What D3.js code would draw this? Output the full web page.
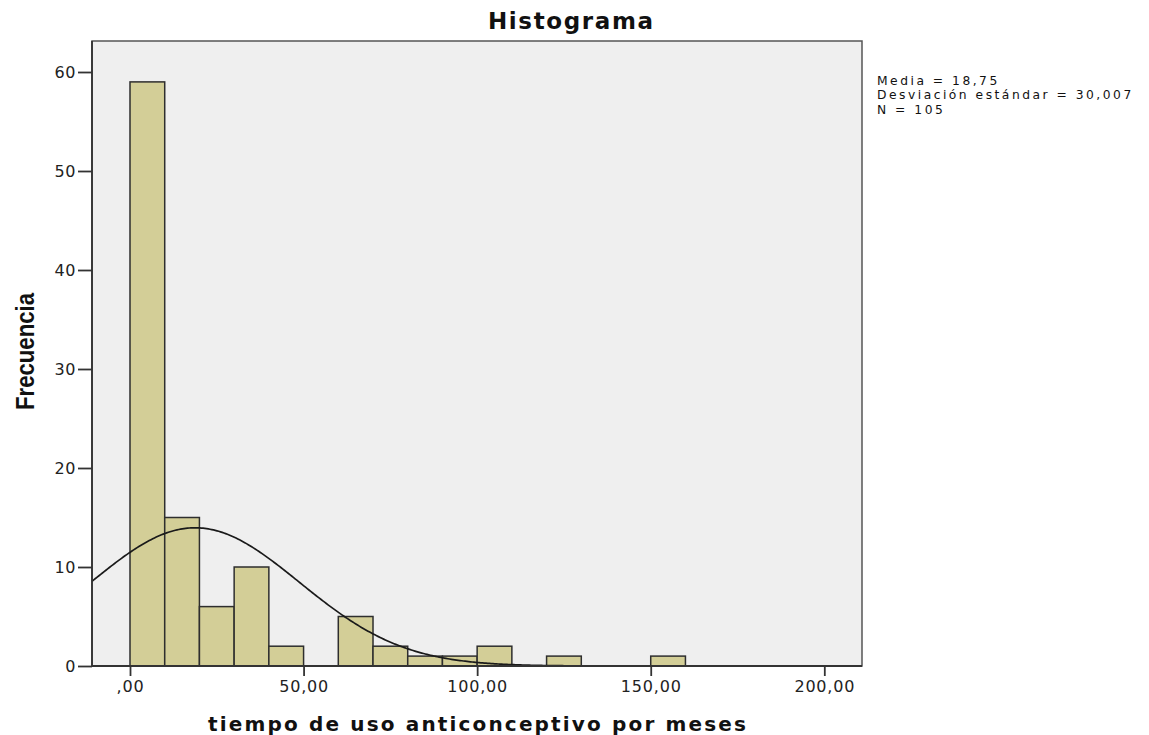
<!DOCTYPE html>
<html>
<head>
<meta charset="utf-8">
<script src="https://cdn.jsdelivr.net/npm/d3@7"></script>
<style>
  body { margin: 0; background: #fff; }
  svg { display: block; }
</style>
</head>
<body>
<svg id="chart" width="1149" height="735"></svg>
<script>
// ---- data ----
const binStarts = [0, 10, 20, 30, 40, 50, 60, 70, 80, 90, 100, 110, 120, 130, 140, 150];
const binCounts = [59, 15, 6, 10, 2, 0, 5, 2, 1, 1, 2, 0, 1, 0, 0, 1];
const binWidth = 10;
const xTicks = [0, 50, 100, 150, 200];
const xTickLabels = [",00", "50,00", "100,00", "150,00", "200,00"];
const yTicks = [0, 10, 20, 30, 40, 50, 60];
const statMean = 18.75;
const statSD = 30.007;
const statN = 105;
const legendLines = ["Media = 18,75", "Desviación estándar = 30,007", "N = 105"];
const titleText = "Histograma";
const xLabelText = "tiempo de uso anticonceptivo por meses";
const yLabelText = "Frecuencia";

// ---- layout ----
const pLeft = 92, pRight = 862, pTop = 41, pBottom = 666;
const svg = d3.select("#chart");

const x = d3.scaleLinear().domain([0, 200]).range([130, 824.3]);
const y = d3.scaleLinear().domain([0, 60]).range([pBottom, 72]);

// plot background
svg.append("rect")
  .attr("x", pLeft).attr("y", pTop)
  .attr("width", pRight - pLeft).attr("height", pBottom - pTop)
  .attr("fill", "#efefef")
  .attr("stroke", "#555").attr("stroke-width", 1.5);

// bars
svg.append("g").selectAll("rect")
  .data(binStarts.map((s, i) => ({ s, c: binCounts[i] })).filter(d => d.c > 0))
  .join("rect")
  .attr("x", d => x(d.s))
  .attr("y", d => y(d.c))
  .attr("width", d => x(d.s + binWidth) - x(d.s))
  .attr("height", d => y(0) - y(d.c))
  .attr("fill", "#d3ce97")
  .attr("stroke", "#2e2e2e")
  .attr("stroke-width", 1.5);

// normal curve from displayed stats
const xmin = x.invert(pLeft), xmax = x.invert(pRight);
const curvePts = d3.range(xmin, xmax + 0.01, 0.5).map(v => {
  const z = (v - statMean) / statSD;
  return [v, statN * binWidth * Math.exp(-0.5 * z * z) / (statSD * Math.sqrt(2 * Math.PI))];
});
svg.append("path")
  .datum(curvePts)
  .attr("fill", "none")
  .attr("stroke", "#1a1a1a")
  .attr("stroke-width", 1.7)
  .attr("d", d3.line().x(d => x(d[0])).y(d => y(d[1])));

// axis lines
svg.append("line").attr("x1", pLeft).attr("x2", pRight).attr("y1", pBottom).attr("y2", pBottom)
  .attr("stroke", "#333").attr("stroke-width", 1.8);
svg.append("line").attr("x1", pLeft).attr("x2", pLeft).attr("y1", pTop).attr("y2", pBottom)
  .attr("stroke", "#333").attr("stroke-width", 1.8);

// y axis
const yAxis = d3.axisLeft(y).tickValues(yTicks).tickSize(14).tickPadding(2).tickFormat(d3.format("d"));
const gy = svg.append("g").attr("transform", `translate(${pLeft},0)`).call(yAxis);
gy.select(".domain").remove();
gy.selectAll("line").attr("stroke", "#333").attr("stroke-width", 1.8);
gy.selectAll("text").attr("font-family", "DejaVu Sans, sans-serif")
  .attr("font-size", 16).attr("fill", "#222").attr("letter-spacing", 0.6);

// x axis
const xAxis = d3.axisBottom(x).tickValues(xTicks).tickSize(10).tickPadding(5)
  .tickFormat((d, i) => xTickLabels[i]);
const gx = svg.append("g").attr("transform", `translate(0,${pBottom})`).call(xAxis);
gx.select(".domain").remove();
gx.selectAll("line").attr("stroke", "#333").attr("stroke-width", 1.8);
gx.selectAll("text").attr("font-family", "DejaVu Sans, sans-serif")
  .attr("font-size", 16).attr("fill", "#222").attr("letter-spacing", 0.8);

// title
svg.append("text")
  .attr("x", 570.5).attr("y", 29)
  .attr("text-anchor", "middle")
  .attr("font-family", "DejaVu Sans, sans-serif")
  .attr("font-weight", "bold")
  .attr("font-size", 23)
  .attr("textLength", 165)
  .attr("lengthAdjust", "spacing")
  .attr("fill", "#111")
  .text(titleText);

// x label
svg.append("text")
  .attr("x", 477).attr("y", 731)
  .attr("text-anchor", "middle")
  .attr("font-family", "DejaVu Sans, sans-serif")
  .attr("font-weight", "bold")
  .attr("font-size", 20)
  .attr("textLength", 538)
  .attr("lengthAdjust", "spacing")
  .attr("fill", "#111")
  .text(xLabelText);

// y label
svg.append("text")
  .attr("transform", "translate(34,351.5) rotate(-90)")
  .attr("text-anchor", "middle")
  .attr("font-family", "Liberation Sans Narrow, Arial Narrow, Liberation Sans, sans-serif")
  .attr("font-weight", "bold")
  .attr("font-size", 26)
  .attr("textLength", 117)
  .attr("lengthAdjust", "spacingAndGlyphs")
  .attr("fill", "#111")
  .text(yLabelText);

// legend / stats
svg.append("g").selectAll("text")
  .data(legendLines)
  .join("text")
  .attr("x", 877)
  .attr("y", (d, i) => 85 + i * 14.4)
  .attr("font-family", "DejaVu Sans, sans-serif")
  .attr("font-size", 12.3)
  .attr("letter-spacing", 2.5)
  .attr("fill", "#111")
  .text(d => d);
</script>
</body>
</html>
